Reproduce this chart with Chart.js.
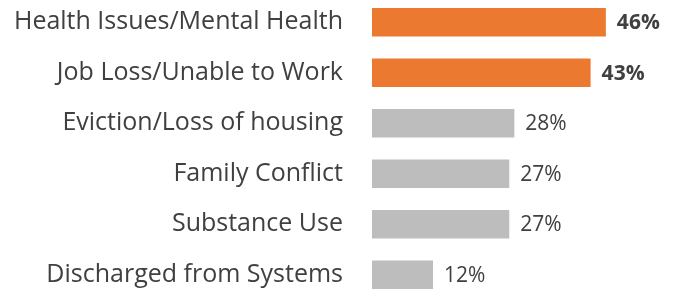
<!DOCTYPE html>
<html>
<head>
<meta charset="utf-8">
<script src="https://cdn.jsdelivr.net/npm/chart.js@4/dist/chart.umd.min.js"></script>
<style>
  html, body { margin: 0; padding: 0; background: #fff; overflow: hidden; }
  /* the y-axis tick padding also pads the chart area top and bottom, so the box is shifted up */
  #wrap { position: absolute; left: 0; top: -39px; width: 674px; height: 375px; }
</style>
</head>
<body>
<div id="wrap"><canvas id="chart"></canvas></div>
<script>
const categories = [
  "Health Issues/Mental Health",
  "Job Loss/Unable to Work",
  "Eviction/Loss of housing",
  "Family Conflict",
  "Substance Use",
  "Discharged from Systems"
];
const values = [46, 43, 28, 27, 27, 12];
const highlighted = [true, true, false, false, false, false];

const orange = "#EB7A30";
const gray = "#BDBDBD";
const textColor = "#404040";

const valueLabels = {
  id: "valueLabels",
  afterDatasetsDraw(chart) {
    const ctx = chart.ctx;
    const meta = chart.getDatasetMeta(0);
    ctx.save();
    ctx.textBaseline = "middle";
    ctx.fillStyle = textColor;
    meta.data.forEach((bar, i) => {
      ctx.font = (highlighted[i] ? "bold " : "") + "21px 'Open Sans'";
      ctx.fillText(values[i] + "%", bar.x + 11, bar.y + 1);
    });
    ctx.restore();
  }
};

new Chart(document.getElementById("chart"), {
  type: "bar",
  data: {
    labels: categories,
    datasets: [{
      data: values,
      backgroundColor: highlighted.map((h) => (h ? orange : gray)),
      borderWidth: 0,
      barPercentage: 0.56,
      categoryPercentage: 1
    }]
  },
  options: {
    indexAxis: "y",
    responsive: true,
    maintainAspectRatio: false,
    animation: false,
    layout: { padding: 0 },
    plugins: {
      legend: { display: false },
      tooltip: { enabled: false }
    },
    scales: {
      x: {
        display: false,
        min: 0,
        max: 59.4
      },
      y: {
        grid: { display: false },
        border: { display: false },
        ticks: {
          color: textColor,
          font: { family: "'Open Sans'", size: 25 },
          padding: 21
        },
        afterFit(scale) {
          scale.width = 372;
        }
      }
    }
  },
  plugins: [valueLabels]
});
</script>
</body>
</html>
